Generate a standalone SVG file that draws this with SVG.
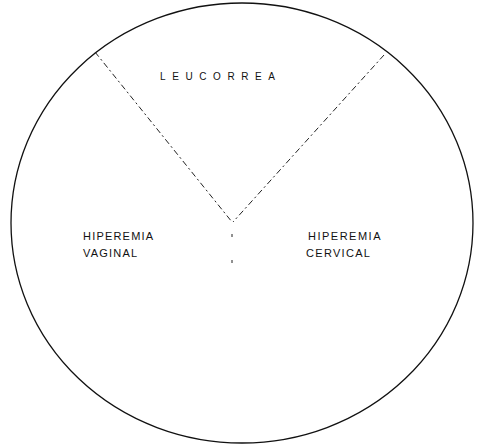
<svg xmlns="http://www.w3.org/2000/svg" width="479" height="448" viewBox="0 0 479 448">
<style>
.lbl{font-family:"Liberation Sans",Arial,sans-serif;fill:#111;}
.div{stroke:#222;stroke-width:1;fill:none;stroke-dasharray:6 3 2 3;}
.tick{stroke:#222;stroke-width:1;fill:none;}
</style>
<rect width="479" height="448" fill="#fff"/>
<g id="circle"><ellipse cx="242" cy="223" rx="231" ry="220" fill="none" stroke="#111" stroke-width="1.3"/></g>
<g id="connectors">
<path class="div" d="M95 52 L232 222"/>
<path class="div" d="M384 55 L233 222"/>
<path class="tick" d="M232 234 L232 237"/>
<path class="tick" d="M232 260 L232 263"/>
</g>
<g id="leucorrea"><text class="lbl" x="160" y="80" font-size="10" letter-spacing="6.6">LEUCORREA</text></g>
<g id="hiperemia-vaginal"><text class="lbl" x="83" y="240" font-size="11" letter-spacing="1.2">HIPEREMIA</text><text class="lbl" x="83" y="257" font-size="11" letter-spacing="1.2">VAGINAL</text></g>
<g id="hiperemia-cervical"><text class="lbl" x="308" y="240" font-size="11" letter-spacing="1.5">HIPEREMIA</text><text class="lbl" x="306" y="257" font-size="11" letter-spacing="1.3">CERVICAL</text></g>
</svg>
